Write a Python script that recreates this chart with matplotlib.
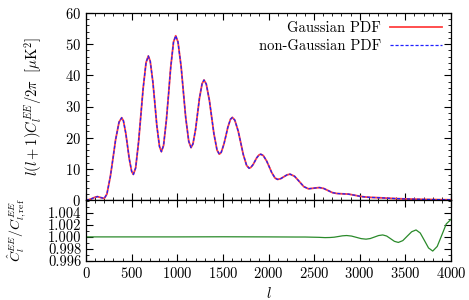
import numpy as np
import matplotlib.pyplot as plt
from matplotlib.ticker import MultipleLocator, FormatStrFormatter

plt.rcParams['font.family'] = 'serif'
plt.rcParams['font.serif'] = ['cmr10']
plt.rcParams['mathtext.fontset'] = 'cm'
plt.rcParams['axes.formatter.use_mathtext'] = True
plt.rcParams['font.size'] = 10.5

# l(l+1)C_l^EE/2pi
ell = [0, 30, 60, 95, 125, 160, 200, 229, 267, 296, 324, 362, 391,
       410, 436, 455, 474, 500, 519, 544, 576, 601, 626, 658, 683,
       704, 733, 755, 776, 805, 826, 850, 881, 905, 928, 959, 983,
       1008, 1042, 1067, 1092, 1126, 1151, 1172, 1201, 1222, 1243, 1272, 1293,
       1318, 1352, 1377, 1402, 1436, 1461, 1482, 1511, 1533, 1554, 1583, 1604,
       1631, 1668, 1696, 1723, 1760, 1787, 1806, 1832, 1851, 1870, 1896, 1915,
       1943, 1980, 2008, 2035, 2072, 2100, 2134, 2168, 2202, 2236,
       2286, 2337, 2387, 2437, 2497, 2557, 2604, 2652, 2700, 2747, 2800, 2875,
       2950, 3000, 3050, 3113, 3200, 3300, 3400, 3500, 3600, 3700, 3800, 3900, 4000]
dl_gauss = [0.0, 0.1, 0.4, 0.85, 1.1, 0.8, 0.5, 1.9, 7.6, 13.45, 19.3, 25.0, 26.4,
            25.4, 21.4, 17.3, 13.2, 9.2, 8.2, 10.3, 18.6, 27.2, 35.8, 44.1, 46.2,
            44.5, 37.8, 30.85, 23.9, 17.2, 15.5, 17.5, 25.7, 34.1, 42.5, 50.7, 52.7,
            50.7, 42.9, 34.75, 26.6, 18.8, 16.8, 18.0, 22.7, 27.65, 32.6, 37.3, 38.5,
            37.2, 32.0, 26.6, 21.2, 16.0, 14.7, 15.3, 17.9, 20.6, 23.3, 25.9, 26.5,
            25.6, 22.1, 18.35, 14.65, 11.1, 10.2, 10.45, 11.4, 12.45, 13.5, 14.45, 14.7,
            14.26, 12.49, 10.65, 8.81, 7.04, 6.6, 6.85, 7.45, 8.05, 8.3,
            7.61, 5.95, 4.29, 3.6, 3.8, 4.0, 3.72, 3.05, 2.38, 2.1, 2.0, 1.9,
            1.5, 1.2, 1.0, 0.85, 0.75, 0.6, 0.45, 0.35, 0.28, 0.2, 0.15, 0.1, 0.08]
dl_nongauss = list(dl_gauss)

# ratio C_l^EE / C_l,ref^EE
ell_r = [0, 500, 1000, 1500, 2000, 2300, 2400, 2550, 2620, 2674,
         2720, 2766, 2811, 2857, 2910, 2963, 3016, 3069, 3115, 3161, 3206, 3252,
         3295, 3338, 3380, 3423, 3472, 3520, 3569, 3617, 3663, 3709, 3754, 3800,
         3849, 3899, 3948, 4000]
ratio = [1.0, 1.0, 1.0, 1.00002, 1.0, 0.99998, 0.99998, 0.99993, 0.99988, 0.9999,
         0.99995, 1.000065, 1.000182, 1.00023, 1.000141, 0.999925, 0.999709, 0.99962,
         0.999724, 0.999975, 1.000226, 1.00033, 1.000146, 0.9997, 0.999254, 0.99907,
         0.999377, 1.00012, 1.000863, 1.00117, 1.000652, 0.999395, 0.998138, 0.99762,
         0.998398, 1.000285, 1.002172, 1.00295]

fig = plt.figure(figsize=(4.69, 3.0), dpi=100)
ax1 = fig.add_axes([0.1834, 0.3333, 0.7782, 0.6234])
ax2 = fig.add_axes([0.1834, 0.131, 0.7782, 0.2023], sharex=ax1)

ax1.plot(ell, dl_gauss, color='#ff4040', lw=1.3, label='Gaussian PDF')
ax1.plot(ell, dl_nongauss, color='#2020ff', lw=0.9, ls=(0, (2.5, 1.5)), label='non-Gaussian PDF')
ax1.set_xlim(0, 4000)
ax1.set_ylim(0, 60)
ax1.yaxis.set_major_locator(MultipleLocator(10))
ax1.yaxis.set_minor_locator(MultipleLocator(2))
ax1.set_ylabel(r'$l(l+1)C_l^{EE}/2\pi\ \ [\mu{\rm K}^2]$')
ax1.tick_params(labelbottom=False)
leg = ax1.legend(loc='upper right', frameon=False, markerfirst=False,
                 handlelength=3.6, borderaxespad=0.2, labelspacing=0.25, handletextpad=0.6)

ax2.plot(ell_r, ratio, color='#2a8a2a', lw=0.9)
ax2.set_ylim(0.996, 1.0062)
ax2.set_yticks([0.996, 0.998, 1.000, 1.002, 1.004])
ax2.yaxis.set_minor_locator(MultipleLocator(0.001))
ax2.yaxis.set_major_formatter(FormatStrFormatter('%.3f'))
ax2.set_ylabel(r'$\hat{C}_l^{EE}/C_{l,{\rm ref}}^{EE}$', fontsize=10)
ax2.set_xlabel(r'$l$')
ax2.xaxis.set_major_locator(MultipleLocator(500))
ax2.xaxis.set_minor_locator(MultipleLocator(100))

for ax in (ax1, ax2):
    ax.tick_params(which='both', direction='in', top=True, right=True)
    ax.tick_params(which='major', length=5, width=0.8)
    ax.tick_params(which='minor', length=2.5, width=0.6)
    for s in ax.spines.values():
        s.set_linewidth(0.9)

ax1.yaxis.set_label_coords(-0.112, 0.5)
ax2.yaxis.set_label_coords(-0.158, 0.5)

fig.savefig('out.png', dpi=100)
